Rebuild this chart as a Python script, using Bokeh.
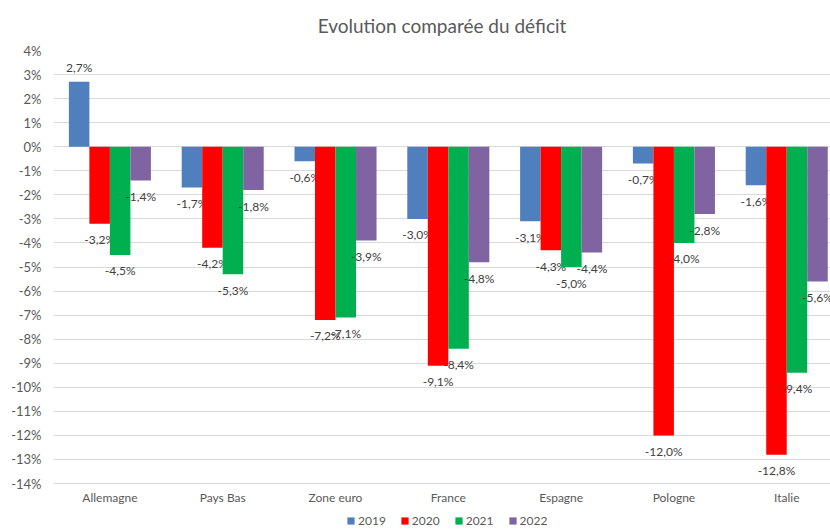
from bokeh.plotting import figure
from bokeh.models import ColumnDataSource, FixedTicker, Range1d, Legend, LegendItem
from bokeh.embed import file_html
from bokeh.resources import INLINE

categories = ["Allemagne", "Pays Bas", "Zone euro", "France", "Espagne", "Pologne", "Italie"]
years = ["2019", "2020", "2021", "2022"]
v2019 = [2.7, -1.7, -0.6, -3.0, -3.1, -0.7, -1.6]
v2020 = [-3.2, -4.2, -7.2, -9.1, -4.3, -12.0, -12.8]
v2021 = [-4.5, -5.3, -7.1, -8.4, -5.0, -4.0, -9.4]
v2022 = [-1.4, -1.8, -3.9, -4.8, -4.4, -2.8, -5.6]
y_ticks = list(range(-14, 5))

series = [v2019, v2020, v2021, v2022]
colors = ["#4f7fbd", "#ff0000", "#00b050", "#8064a2"]
FONT = "Lato"

# frame extends below the -14% line to host the legend inside the frame
p = figure(frame_width=777, frame_height=481, output_backend="svg", toolbar_location=None,
           x_range=Range1d(-0.5, 6.388), y_range=Range1d(-15.995, 4),
           min_border_left=53, min_border_right=0, min_border_top=50, min_border_bottom=0,
           title="Evolution comparée du déficit")
p.outline_line_color = None
p.background_fill_color = "white"
p.border_fill_color = "white"

p.title.align = "center"
p.title.vertical_align = "top"
p.title.text_font = FONT
p.title.text_font_size = "19px"
p.title.text_font_style = "normal"
p.title.text_color = "#595959"
p.title.standoff = 24

bar_w = 0.1818
offsets = [-0.2727, -0.0909, 0.0909, 0.2727]
items = []
for yr, vals, col, off in zip(years, series, colors, offsets):
    xs = [i + off for i in range(len(categories))]
    labels = [f"{v:.1f}%".replace(".", ",") for v in vals]
    yoff = [-14 if v > 0 else 16 for v in vals]
    src = ColumnDataSource(dict(x=xs, top=vals, label=labels, yoff=yoff))
    r = p.vbar(x="x", top="top", bottom=0, width=bar_w, source=src,
               fill_color=col, line_color=None)
    p.text(x="x", y="top", text="label", y_offset="yoff", source=src,
           text_align="center", text_baseline="middle", text_font_size="12px",
           text_color="#404040", text_font={"value": FONT})
    items.append(LegendItem(label=yr, renderers=[r]))

p.xaxis.ticker = FixedTicker(ticks=list(range(len(categories))))
p.xaxis.major_label_overrides = {i: c for i, c in enumerate(categories)}
p.xaxis.fixed_location = y_ticks[0]
p.yaxis.ticker = FixedTicker(ticks=y_ticks)
p.yaxis.major_label_overrides = {t: f"{t}%" for t in y_ticks}
for ax in (p.xaxis, p.yaxis):
    ax.axis_line_color = None
    ax.major_tick_line_color = None
    ax.minor_tick_line_color = None
    ax.major_label_text_font = FONT
    ax.major_label_text_color = "#595959"
p.xaxis.major_label_text_font_size = "12px"
p.yaxis.major_label_text_font_size = "13px"
p.xaxis.major_label_standoff = 0
p.yaxis.major_label_standoff = 6

p.xgrid.grid_line_color = None
p.ygrid.ticker = FixedTicker(ticks=y_ticks)
p.ygrid.grid_line_color = "#d9d9d9"
p.ygrid.grid_line_width = 1

legend = Legend(items=items, orientation="horizontal", location=(293, 3),
                glyph_width=9, glyph_height=9, label_standoff=3, spacing=14,
                padding=0, margin=0, border_line_color=None, background_fill_alpha=0,
                label_text_font=FONT, label_text_font_size="12px", label_text_color="#595959",
                label_height=12)
p.add_layout(legend, "center")

open("out.html", "w").write(file_html(p, INLINE))
